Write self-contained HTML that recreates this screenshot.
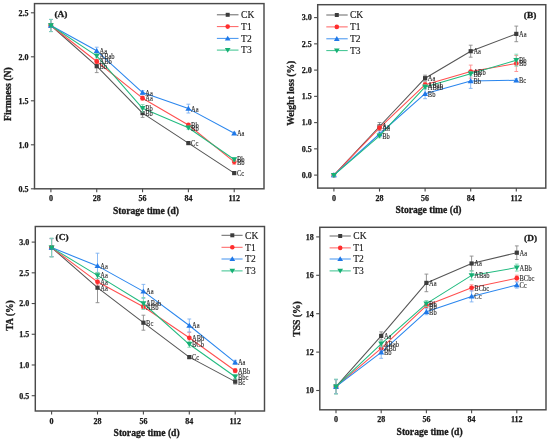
<!DOCTYPE html>
<html><head><meta charset="utf-8"><style>
html,body{margin:0;padding:0;background:#fff;}
body{width:550px;height:440px;overflow:hidden;}
svg{display:block;filter:blur(0.38px);}
text{font-family:"Liberation Serif",serif;fill:#1a1a1a;}
.tk{font-size:8px;font-weight:bold;stroke:#1a1a1a;stroke-width:0.25px;}
.tt{font-size:9.6px;font-weight:bold;stroke:#1a1a1a;stroke-width:0.3px;}
.pl{font-size:9.4px;font-weight:bold;stroke:#1a1a1a;stroke-width:0.3px;}
.lg{font-size:9.5px;stroke:#1a1a1a;stroke-width:0.15px;}
.an{font-size:7.4px;fill:#2a2a2a;stroke:#2a2a2a;stroke-width:0.12px;}
</style></head><body>
<svg width="550" height="440" viewBox="0 0 550 440">
<rect width="550" height="440" fill="#fff"/>
<rect x="34.5" y="3.6" width="229.5" height="185.20000000000002" fill="none" stroke="#4a4a4a" stroke-width="1.45"/>
<line x1="30.9" y1="188.80" x2="34.5" y2="188.80" stroke="#4a4a4a" stroke-width="1.1"/>
<text x="28.50" y="191.60" class="tk" text-anchor="end">0.5</text>
<line x1="30.9" y1="144.80" x2="34.5" y2="144.80" stroke="#4a4a4a" stroke-width="1.1"/>
<text x="28.50" y="147.60" class="tk" text-anchor="end">1.0</text>
<line x1="30.9" y1="100.80" x2="34.5" y2="100.80" stroke="#4a4a4a" stroke-width="1.1"/>
<text x="28.50" y="103.60" class="tk" text-anchor="end">1.5</text>
<line x1="30.9" y1="56.80" x2="34.5" y2="56.80" stroke="#4a4a4a" stroke-width="1.1"/>
<text x="28.50" y="59.60" class="tk" text-anchor="end">2.0</text>
<line x1="30.9" y1="12.80" x2="34.5" y2="12.80" stroke="#4a4a4a" stroke-width="1.1"/>
<text x="28.50" y="15.60" class="tk" text-anchor="end">2.5</text>
<line x1="50.90" y1="188.8" x2="50.90" y2="192.3" stroke="#4a4a4a" stroke-width="1.1"/>
<text x="50.90" y="201.20" class="tk" text-anchor="middle">0</text>
<line x1="96.73" y1="188.8" x2="96.73" y2="192.3" stroke="#4a4a4a" stroke-width="1.1"/>
<text x="96.73" y="201.20" class="tk" text-anchor="middle">28</text>
<line x1="142.56" y1="188.8" x2="142.56" y2="192.3" stroke="#4a4a4a" stroke-width="1.1"/>
<text x="142.56" y="201.20" class="tk" text-anchor="middle">56</text>
<line x1="188.39" y1="188.8" x2="188.39" y2="192.3" stroke="#4a4a4a" stroke-width="1.1"/>
<text x="188.39" y="201.20" class="tk" text-anchor="middle">84</text>
<line x1="234.22" y1="188.8" x2="234.22" y2="192.3" stroke="#4a4a4a" stroke-width="1.1"/>
<text x="234.22" y="201.20" class="tk" text-anchor="middle">112</text>
<text x="145.95" y="214.00" class="tt" text-anchor="middle">Storage time (d)</text>
<text transform="translate(11.2,94.2) rotate(-90)" class="tt" text-anchor="middle">Firmness (N)</text>
<text transform="translate(54.4,17.2) scale(1,0.86)" class="pl">(A)</text>
<path d="M50.90 25.50L96.73 66.20L142.56 113.10L188.39 143.10L234.22 173.10" fill="none" stroke="#555555" stroke-width="1.05" stroke-linejoin="round"/>
<path d="M50.90 19.50V31.50M49.00 19.50H52.80M49.00 31.50H52.80" stroke="#8a8a8a" stroke-width="0.9" fill="none"/>
<path d="M96.73 59.80V72.60M94.83 59.80H98.63M94.83 72.60H98.63" stroke="#8a8a8a" stroke-width="0.9" fill="none"/>
<path d="M142.56 108.80V117.40M140.66 108.80H144.46M140.66 117.40H144.46" stroke="#8a8a8a" stroke-width="0.9" fill="none"/>
<path d="M188.39 142.10V144.10M186.49 142.10H190.29M186.49 144.10H190.29" stroke="#8a8a8a" stroke-width="0.9" fill="none"/>
<path d="M234.22 172.10V174.10M232.32 172.10H236.12M232.32 174.10H236.12" stroke="#8a8a8a" stroke-width="0.9" fill="none"/>
<rect x="48.80" y="23.40" width="4.20" height="4.20" fill="#3c3c3c"/>
<rect x="94.63" y="64.10" width="4.20" height="4.20" fill="#3c3c3c"/>
<rect x="140.46" y="111.00" width="4.20" height="4.20" fill="#3c3c3c"/>
<rect x="186.29" y="141.00" width="4.20" height="4.20" fill="#3c3c3c"/>
<rect x="232.12" y="171.00" width="4.20" height="4.20" fill="#3c3c3c"/>
<path d="M50.90 25.50L96.73 61.50L142.56 98.20L188.39 125.00L234.22 161.80" fill="none" stroke="#ff4f4f" stroke-width="1.05" stroke-linejoin="round"/>
<path d="M50.90 19.50V31.50M49.00 19.50H52.80M49.00 31.50H52.80" stroke="#ff8c8c" stroke-width="0.9" fill="none"/>
<path d="M96.73 59.50V63.50M94.83 59.50H98.63M94.83 63.50H98.63" stroke="#ff8c8c" stroke-width="0.9" fill="none"/>
<path d="M142.56 96.20V100.20M140.66 96.20H144.46M140.66 100.20H144.46" stroke="#ff8c8c" stroke-width="0.9" fill="none"/>
<path d="M188.39 123.50V126.50M186.49 123.50H190.29M186.49 126.50H190.29" stroke="#ff8c8c" stroke-width="0.9" fill="none"/>
<path d="M234.22 159.30V164.30M232.32 159.30H236.12M232.32 164.30H236.12" stroke="#ff8c8c" stroke-width="0.9" fill="none"/>
<circle cx="50.90" cy="25.50" r="2.40" fill="#ff2e2e"/>
<circle cx="96.73" cy="61.50" r="2.40" fill="#ff2e2e"/>
<circle cx="142.56" cy="98.20" r="2.40" fill="#ff2e2e"/>
<circle cx="188.39" cy="125.00" r="2.40" fill="#ff2e2e"/>
<circle cx="234.22" cy="161.80" r="2.40" fill="#ff2e2e"/>
<path d="M50.90 25.50L96.73 50.80L142.56 92.60L188.39 108.60L234.22 133.30" fill="none" stroke="#2a86ee" stroke-width="1.05" stroke-linejoin="round"/>
<path d="M50.90 19.50V31.50M49.00 19.50H52.80M49.00 31.50H52.80" stroke="#7fb2f2" stroke-width="0.9" fill="none"/>
<path d="M96.73 47.20V54.40M94.83 47.20H98.63M94.83 54.40H98.63" stroke="#7fb2f2" stroke-width="0.9" fill="none"/>
<path d="M142.56 90.60V94.60M140.66 90.60H144.46M140.66 94.60H144.46" stroke="#7fb2f2" stroke-width="0.9" fill="none"/>
<path d="M188.39 104.20V113.00M186.49 104.20H190.29M186.49 113.00H190.29" stroke="#7fb2f2" stroke-width="0.9" fill="none"/>
<path d="M234.22 132.30V134.30M232.32 132.30H236.12M232.32 134.30H236.12" stroke="#7fb2f2" stroke-width="0.9" fill="none"/>
<path d="M50.90 22.70L53.90 27.70L47.90 27.70Z" fill="#1f78e8"/>
<path d="M96.73 48.00L99.73 53.00L93.73 53.00Z" fill="#1f78e8"/>
<path d="M142.56 89.80L145.56 94.80L139.56 94.80Z" fill="#1f78e8"/>
<path d="M188.39 105.80L191.39 110.80L185.39 110.80Z" fill="#1f78e8"/>
<path d="M234.22 130.50L237.22 135.50L231.22 135.50Z" fill="#1f78e8"/>
<path d="M50.90 25.50L96.73 55.90L142.56 108.30L188.39 127.70L234.22 159.50" fill="none" stroke="#22bb80" stroke-width="1.05" stroke-linejoin="round"/>
<path d="M50.90 19.30V31.70M49.00 19.30H52.80M49.00 31.70H52.80" stroke="#7fd6b2" stroke-width="0.9" fill="none"/>
<path d="M96.73 53.90V57.90M94.83 53.90H98.63M94.83 57.90H98.63" stroke="#7fd6b2" stroke-width="0.9" fill="none"/>
<path d="M142.56 104.60V112.00M140.66 104.60H144.46M140.66 112.00H144.46" stroke="#7fd6b2" stroke-width="0.9" fill="none"/>
<path d="M188.39 126.20V129.20M186.49 126.20H190.29M186.49 129.20H190.29" stroke="#7fd6b2" stroke-width="0.9" fill="none"/>
<path d="M234.22 158.00V161.00M232.32 158.00H236.12M232.32 161.00H236.12" stroke="#7fd6b2" stroke-width="0.9" fill="none"/>
<path d="M50.90 28.30L53.90 23.30L47.90 23.30Z" fill="#16b074"/>
<path d="M96.73 58.70L99.73 53.70L93.73 53.70Z" fill="#16b074"/>
<path d="M142.56 111.10L145.56 106.10L139.56 106.10Z" fill="#16b074"/>
<path d="M188.39 130.50L191.39 125.50L185.39 125.50Z" fill="#16b074"/>
<path d="M234.22 162.30L237.22 157.30L231.22 157.30Z" fill="#16b074"/>
<text transform="translate(99.43,69.10) scale(0.88,1)" class="an">Bb</text>
<text transform="translate(145.26,116.00) scale(0.88,1)" class="an">Bb</text>
<text transform="translate(191.09,146.00) scale(0.88,1)" class="an">Cc</text>
<text transform="translate(236.92,176.00) scale(0.88,1)" class="an">Cc</text>
<text transform="translate(99.43,64.40) scale(0.88,1)" class="an">ABb</text>
<text transform="translate(145.26,101.10) scale(0.88,1)" class="an">Aa</text>
<text transform="translate(191.09,127.90) scale(0.88,1)" class="an">Bb</text>
<text transform="translate(236.92,164.70) scale(0.88,1)" class="an">Bb</text>
<text transform="translate(99.43,53.70) scale(0.88,1)" class="an">Aa</text>
<text transform="translate(145.26,95.50) scale(0.88,1)" class="an">Aa</text>
<text transform="translate(191.09,111.50) scale(0.88,1)" class="an">Aa</text>
<text transform="translate(236.92,136.20) scale(0.88,1)" class="an">Aa</text>
<text transform="translate(99.43,58.80) scale(0.88,1)" class="an">ABab</text>
<text transform="translate(145.26,111.20) scale(0.88,1)" class="an">Bb</text>
<text transform="translate(191.09,130.60) scale(0.88,1)" class="an">Bb</text>
<text transform="translate(236.92,162.40) scale(0.88,1)" class="an">Bb</text>
<line x1="216.9" y1="14.8" x2="238.5" y2="14.8" stroke="#555555" stroke-width="0.9"/>
<rect x="225.70" y="12.81" width="3.99" height="3.99" fill="#3c3c3c"/>
<text x="241.1" y="18.10" class="lg">CK</text>
<line x1="216.9" y1="26.6" x2="238.5" y2="26.6" stroke="#ff4f4f" stroke-width="0.9"/>
<circle cx="227.70" cy="26.60" r="2.28" fill="#ff2e2e"/>
<text x="241.1" y="29.90" class="lg">T1</text>
<line x1="216.9" y1="38.4" x2="238.5" y2="38.4" stroke="#2a86ee" stroke-width="0.9"/>
<path d="M227.70 35.73L230.55 40.48L224.85 40.48Z" fill="#1f78e8"/>
<text x="241.1" y="41.70" class="lg">T2</text>
<line x1="216.9" y1="50.1" x2="238.5" y2="50.1" stroke="#22bb80" stroke-width="0.9"/>
<path d="M227.70 52.77L230.55 48.02L224.85 48.02Z" fill="#16b074"/>
<text x="241.1" y="53.40" class="lg">T3</text>
<rect x="317.7" y="4.7" width="228.09999999999997" height="183.4" fill="none" stroke="#4a4a4a" stroke-width="1.45"/>
<line x1="314.09999999999997" y1="175.10" x2="317.7" y2="175.10" stroke="#4a4a4a" stroke-width="1.1"/>
<text x="311.70" y="177.90" class="tk" text-anchor="end">0.0</text>
<line x1="314.09999999999997" y1="148.85" x2="317.7" y2="148.85" stroke="#4a4a4a" stroke-width="1.1"/>
<text x="311.70" y="151.65" class="tk" text-anchor="end">0.5</text>
<line x1="314.09999999999997" y1="122.60" x2="317.7" y2="122.60" stroke="#4a4a4a" stroke-width="1.1"/>
<text x="311.70" y="125.40" class="tk" text-anchor="end">1.0</text>
<line x1="314.09999999999997" y1="96.35" x2="317.7" y2="96.35" stroke="#4a4a4a" stroke-width="1.1"/>
<text x="311.70" y="99.15" class="tk" text-anchor="end">1.5</text>
<line x1="314.09999999999997" y1="70.10" x2="317.7" y2="70.10" stroke="#4a4a4a" stroke-width="1.1"/>
<text x="311.70" y="72.90" class="tk" text-anchor="end">2.0</text>
<line x1="314.09999999999997" y1="43.85" x2="317.7" y2="43.85" stroke="#4a4a4a" stroke-width="1.1"/>
<text x="311.70" y="46.65" class="tk" text-anchor="end">2.5</text>
<line x1="314.09999999999997" y1="17.60" x2="317.7" y2="17.60" stroke="#4a4a4a" stroke-width="1.1"/>
<text x="311.70" y="20.40" class="tk" text-anchor="end">3.0</text>
<line x1="333.90" y1="188.1" x2="333.90" y2="191.6" stroke="#4a4a4a" stroke-width="1.1"/>
<text x="333.90" y="200.90" class="tk" text-anchor="middle">0</text>
<line x1="379.50" y1="188.1" x2="379.50" y2="191.6" stroke="#4a4a4a" stroke-width="1.1"/>
<text x="379.50" y="200.90" class="tk" text-anchor="middle">28</text>
<line x1="425.10" y1="188.1" x2="425.10" y2="191.6" stroke="#4a4a4a" stroke-width="1.1"/>
<text x="425.10" y="200.90" class="tk" text-anchor="middle">56</text>
<line x1="470.70" y1="188.1" x2="470.70" y2="191.6" stroke="#4a4a4a" stroke-width="1.1"/>
<text x="470.70" y="200.90" class="tk" text-anchor="middle">84</text>
<line x1="516.30" y1="188.1" x2="516.30" y2="191.6" stroke="#4a4a4a" stroke-width="1.1"/>
<text x="516.30" y="200.90" class="tk" text-anchor="middle">112</text>
<text x="428.45" y="213.30" class="tt" text-anchor="middle">Storage time (d)</text>
<text transform="translate(294.2,93.2) rotate(-90)" class="tt" text-anchor="middle">Weight loss (%)</text>
<text transform="translate(523.8,18.1) scale(1,0.86)" class="pl">(B)</text>
<path d="M333.90 175.10L379.50 126.50L425.10 78.20L470.70 51.20L516.30 33.90" fill="none" stroke="#555555" stroke-width="1.05" stroke-linejoin="round"/>
<path d="M333.90 174.10V176.10M332.00 174.10H335.80M332.00 176.10H335.80" stroke="#8a8a8a" stroke-width="0.9" fill="none"/>
<path d="M379.50 122.50V130.50M377.60 122.50H381.40M377.60 130.50H381.40" stroke="#8a8a8a" stroke-width="0.9" fill="none"/>
<path d="M425.10 75.20V81.20M423.20 75.20H427.00M423.20 81.20H427.00" stroke="#8a8a8a" stroke-width="0.9" fill="none"/>
<path d="M470.70 45.20V57.20M468.80 45.20H472.60M468.80 57.20H472.60" stroke="#8a8a8a" stroke-width="0.9" fill="none"/>
<path d="M516.30 26.10V41.70M514.40 26.10H518.20M514.40 41.70H518.20" stroke="#8a8a8a" stroke-width="0.9" fill="none"/>
<rect x="331.80" y="173.00" width="4.20" height="4.20" fill="#3c3c3c"/>
<rect x="377.40" y="124.40" width="4.20" height="4.20" fill="#3c3c3c"/>
<rect x="423.00" y="76.10" width="4.20" height="4.20" fill="#3c3c3c"/>
<rect x="468.60" y="49.10" width="4.20" height="4.20" fill="#3c3c3c"/>
<rect x="514.20" y="31.80" width="4.20" height="4.20" fill="#3c3c3c"/>
<path d="M333.90 175.10L379.50 127.80L425.10 84.70L470.70 71.60L516.30 63.50" fill="none" stroke="#ff4f4f" stroke-width="1.05" stroke-linejoin="round"/>
<path d="M333.90 174.10V176.10M332.00 174.10H335.80M332.00 176.10H335.80" stroke="#ff8c8c" stroke-width="0.9" fill="none"/>
<path d="M379.50 125.80V129.80M377.60 125.80H381.40M377.60 129.80H381.40" stroke="#ff8c8c" stroke-width="0.9" fill="none"/>
<path d="M425.10 82.70V86.70M423.20 82.70H427.00M423.20 86.70H427.00" stroke="#ff8c8c" stroke-width="0.9" fill="none"/>
<path d="M470.70 65.10V78.10M468.80 65.10H472.60M468.80 78.10H472.60" stroke="#ff8c8c" stroke-width="0.9" fill="none"/>
<path d="M516.30 55.50V71.50M514.40 55.50H518.20M514.40 71.50H518.20" stroke="#ff8c8c" stroke-width="0.9" fill="none"/>
<circle cx="333.90" cy="175.10" r="2.40" fill="#ff2e2e"/>
<circle cx="379.50" cy="127.80" r="2.40" fill="#ff2e2e"/>
<circle cx="425.10" cy="84.70" r="2.40" fill="#ff2e2e"/>
<circle cx="470.70" cy="71.60" r="2.40" fill="#ff2e2e"/>
<circle cx="516.30" cy="63.50" r="2.40" fill="#ff2e2e"/>
<path d="M333.90 175.10L379.50 134.00L425.10 93.70L470.70 81.10L516.30 80.20" fill="none" stroke="#2a86ee" stroke-width="1.05" stroke-linejoin="round"/>
<path d="M333.90 174.10V176.10M332.00 174.10H335.80M332.00 176.10H335.80" stroke="#7fb2f2" stroke-width="0.9" fill="none"/>
<path d="M379.50 132.00V136.00M377.60 132.00H381.40M377.60 136.00H381.40" stroke="#7fb2f2" stroke-width="0.9" fill="none"/>
<path d="M425.10 88.70V98.70M423.20 88.70H427.00M423.20 98.70H427.00" stroke="#7fb2f2" stroke-width="0.9" fill="none"/>
<path d="M470.70 73.80V88.40M468.80 73.80H472.60M468.80 88.40H472.60" stroke="#7fb2f2" stroke-width="0.9" fill="none"/>
<path d="M516.30 78.70V81.70M514.40 78.70H518.20M514.40 81.70H518.20" stroke="#7fb2f2" stroke-width="0.9" fill="none"/>
<path d="M333.90 172.30L336.90 177.30L330.90 177.30Z" fill="#1f78e8"/>
<path d="M379.50 131.20L382.50 136.20L376.50 136.20Z" fill="#1f78e8"/>
<path d="M425.10 90.90L428.10 95.90L422.10 95.90Z" fill="#1f78e8"/>
<path d="M470.70 78.30L473.70 83.30L467.70 83.30Z" fill="#1f78e8"/>
<path d="M516.30 77.40L519.30 82.40L513.30 82.40Z" fill="#1f78e8"/>
<path d="M333.90 175.10L379.50 135.80L425.10 86.90L470.70 73.80L516.30 60.20" fill="none" stroke="#22bb80" stroke-width="1.05" stroke-linejoin="round"/>
<path d="M333.90 174.10V176.10M332.00 174.10H335.80M332.00 176.10H335.80" stroke="#7fd6b2" stroke-width="0.9" fill="none"/>
<path d="M379.50 133.80V137.80M377.60 133.80H381.40M377.60 137.80H381.40" stroke="#7fd6b2" stroke-width="0.9" fill="none"/>
<path d="M425.10 84.90V88.90M423.20 84.90H427.00M423.20 88.90H427.00" stroke="#7fd6b2" stroke-width="0.9" fill="none"/>
<path d="M470.70 71.80V75.80M468.80 71.80H472.60M468.80 75.80H472.60" stroke="#7fd6b2" stroke-width="0.9" fill="none"/>
<path d="M516.30 54.20V66.20M514.40 54.20H518.20M514.40 66.20H518.20" stroke="#7fd6b2" stroke-width="0.9" fill="none"/>
<path d="M333.90 177.90L336.90 172.90L330.90 172.90Z" fill="#16b074"/>
<path d="M379.50 138.60L382.50 133.60L376.50 133.60Z" fill="#16b074"/>
<path d="M425.10 89.70L428.10 84.70L422.10 84.70Z" fill="#16b074"/>
<path d="M470.70 76.60L473.70 71.60L467.70 71.60Z" fill="#16b074"/>
<path d="M516.30 63.00L519.30 58.00L513.30 58.00Z" fill="#16b074"/>
<text transform="translate(382.20,129.40) scale(0.88,1)" class="an">Aa</text>
<text transform="translate(427.80,81.10) scale(0.88,1)" class="an">Aa</text>
<text transform="translate(473.40,54.10) scale(0.88,1)" class="an">Aa</text>
<text transform="translate(519.00,36.80) scale(0.88,1)" class="an">Aa</text>
<text transform="translate(382.20,130.70) scale(0.88,1)" class="an">Aa</text>
<text transform="translate(427.80,87.60) scale(0.88,1)" class="an">ABab</text>
<text transform="translate(473.40,74.50) scale(0.88,1)" class="an">ABb</text>
<text transform="translate(519.00,66.40) scale(0.88,1)" class="an">Bb</text>
<text transform="translate(427.80,96.60) scale(0.88,1)" class="an">Bb</text>
<text transform="translate(473.40,84.00) scale(0.88,1)" class="an">Bb</text>
<text transform="translate(519.00,83.10) scale(0.88,1)" class="an">Bc</text>
<text transform="translate(382.20,138.70) scale(0.88,1)" class="an">Bb</text>
<text transform="translate(427.80,89.80) scale(0.88,1)" class="an">ABab</text>
<text transform="translate(473.40,76.70) scale(0.88,1)" class="an">Bb</text>
<text transform="translate(519.00,63.10) scale(0.88,1)" class="an">Bb</text>
<line x1="326.3" y1="15" x2="347.7" y2="15" stroke="#555555" stroke-width="0.9"/>
<rect x="334.81" y="13.01" width="3.99" height="3.99" fill="#3c3c3c"/>
<text x="349.9" y="18.30" class="lg">CK</text>
<line x1="326.3" y1="26.9" x2="347.7" y2="26.9" stroke="#ff4f4f" stroke-width="0.9"/>
<circle cx="336.80" cy="26.90" r="2.28" fill="#ff2e2e"/>
<text x="349.9" y="30.20" class="lg">T1</text>
<line x1="326.3" y1="38.8" x2="347.7" y2="38.8" stroke="#2a86ee" stroke-width="0.9"/>
<path d="M336.80 36.12L339.65 40.88L333.95 40.88Z" fill="#1f78e8"/>
<text x="349.9" y="42.10" class="lg">T2</text>
<line x1="326.3" y1="50.6" x2="347.7" y2="50.6" stroke="#22bb80" stroke-width="0.9"/>
<path d="M336.80 53.27L339.65 48.52L333.95 48.52Z" fill="#16b074"/>
<text x="349.9" y="53.90" class="lg">T3</text>
<rect x="35.3" y="226.5" width="229.2" height="184.5" fill="none" stroke="#4a4a4a" stroke-width="1.45"/>
<line x1="31.699999999999996" y1="395.70" x2="35.3" y2="395.70" stroke="#4a4a4a" stroke-width="1.1"/>
<text x="29.30" y="398.50" class="tk" text-anchor="end">0.5</text>
<line x1="31.699999999999996" y1="364.98" x2="35.3" y2="364.98" stroke="#4a4a4a" stroke-width="1.1"/>
<text x="29.30" y="367.78" class="tk" text-anchor="end">1.0</text>
<line x1="31.699999999999996" y1="334.26" x2="35.3" y2="334.26" stroke="#4a4a4a" stroke-width="1.1"/>
<text x="29.30" y="337.06" class="tk" text-anchor="end">1.5</text>
<line x1="31.699999999999996" y1="303.54" x2="35.3" y2="303.54" stroke="#4a4a4a" stroke-width="1.1"/>
<text x="29.30" y="306.34" class="tk" text-anchor="end">2.0</text>
<line x1="31.699999999999996" y1="272.82" x2="35.3" y2="272.82" stroke="#4a4a4a" stroke-width="1.1"/>
<text x="29.30" y="275.62" class="tk" text-anchor="end">2.5</text>
<line x1="31.699999999999996" y1="242.10" x2="35.3" y2="242.10" stroke="#4a4a4a" stroke-width="1.1"/>
<text x="29.30" y="244.90" class="tk" text-anchor="end">3.0</text>
<line x1="51.60" y1="411" x2="51.60" y2="414.5" stroke="#4a4a4a" stroke-width="1.1"/>
<text x="51.60" y="424.00" class="tk" text-anchor="middle">0</text>
<line x1="97.50" y1="411" x2="97.50" y2="414.5" stroke="#4a4a4a" stroke-width="1.1"/>
<text x="97.50" y="424.00" class="tk" text-anchor="middle">28</text>
<line x1="143.40" y1="411" x2="143.40" y2="414.5" stroke="#4a4a4a" stroke-width="1.1"/>
<text x="143.40" y="424.00" class="tk" text-anchor="middle">56</text>
<line x1="189.30" y1="411" x2="189.30" y2="414.5" stroke="#4a4a4a" stroke-width="1.1"/>
<text x="189.30" y="424.00" class="tk" text-anchor="middle">84</text>
<line x1="235.20" y1="411" x2="235.20" y2="414.5" stroke="#4a4a4a" stroke-width="1.1"/>
<text x="235.20" y="424.00" class="tk" text-anchor="middle">112</text>
<text x="146.60" y="436.20" class="tt" text-anchor="middle">Storage time (d)</text>
<text transform="translate(12.6,315.5) rotate(-90)" class="tt" text-anchor="middle">TA (%)</text>
<text transform="translate(55.6,240.2) scale(1,0.86)" class="pl">(C)</text>
<path d="M51.60 247.60L97.50 287.70L143.40 322.70L189.30 357.10L235.20 381.60" fill="none" stroke="#555555" stroke-width="1.05" stroke-linejoin="round"/>
<path d="M51.60 238.60V256.60M49.70 238.60H53.50M49.70 256.60H53.50" stroke="#8a8a8a" stroke-width="0.9" fill="none"/>
<path d="M97.50 272.70V302.70M95.60 272.70H99.40M95.60 302.70H99.40" stroke="#8a8a8a" stroke-width="0.9" fill="none"/>
<path d="M143.40 315.20V330.20M141.50 315.20H145.30M141.50 330.20H145.30" stroke="#8a8a8a" stroke-width="0.9" fill="none"/>
<path d="M189.30 355.60V358.60M187.40 355.60H191.20M187.40 358.60H191.20" stroke="#8a8a8a" stroke-width="0.9" fill="none"/>
<path d="M235.20 379.10V384.10M233.30 379.10H237.10M233.30 384.10H237.10" stroke="#8a8a8a" stroke-width="0.9" fill="none"/>
<rect x="49.50" y="245.50" width="4.20" height="4.20" fill="#3c3c3c"/>
<rect x="95.40" y="285.60" width="4.20" height="4.20" fill="#3c3c3c"/>
<rect x="141.30" y="320.60" width="4.20" height="4.20" fill="#3c3c3c"/>
<rect x="187.20" y="355.00" width="4.20" height="4.20" fill="#3c3c3c"/>
<rect x="233.10" y="379.50" width="4.20" height="4.20" fill="#3c3c3c"/>
<path d="M51.60 247.60L97.50 281.80L143.40 306.70L189.30 337.80L235.20 370.70" fill="none" stroke="#ff4f4f" stroke-width="1.05" stroke-linejoin="round"/>
<path d="M51.60 238.60V256.60M49.70 238.60H53.50M49.70 256.60H53.50" stroke="#ff8c8c" stroke-width="0.9" fill="none"/>
<path d="M97.50 278.80V284.80M95.60 278.80H99.40M95.60 284.80H99.40" stroke="#ff8c8c" stroke-width="0.9" fill="none"/>
<path d="M143.40 304.70V308.70M141.50 304.70H145.30M141.50 308.70H145.30" stroke="#ff8c8c" stroke-width="0.9" fill="none"/>
<path d="M189.30 332.30V343.30M187.40 332.30H191.20M187.40 343.30H191.20" stroke="#ff8c8c" stroke-width="0.9" fill="none"/>
<path d="M235.20 368.70V372.70M233.30 368.70H237.10M233.30 372.70H237.10" stroke="#ff8c8c" stroke-width="0.9" fill="none"/>
<circle cx="51.60" cy="247.60" r="2.40" fill="#ff2e2e"/>
<circle cx="97.50" cy="281.80" r="2.40" fill="#ff2e2e"/>
<circle cx="143.40" cy="306.70" r="2.40" fill="#ff2e2e"/>
<circle cx="189.30" cy="337.80" r="2.40" fill="#ff2e2e"/>
<circle cx="235.20" cy="370.70" r="2.40" fill="#ff2e2e"/>
<path d="M51.60 247.60L97.50 265.90L143.40 291.40L189.30 325.50L235.20 362.30" fill="none" stroke="#2a86ee" stroke-width="1.05" stroke-linejoin="round"/>
<path d="M51.60 238.60V256.60M49.70 238.60H53.50M49.70 256.60H53.50" stroke="#7fb2f2" stroke-width="0.9" fill="none"/>
<path d="M97.50 253.20V278.60M95.60 253.20H99.40M95.60 278.60H99.40" stroke="#7fb2f2" stroke-width="0.9" fill="none"/>
<path d="M143.40 284.40V298.40M141.50 284.40H145.30M141.50 298.40H145.30" stroke="#7fb2f2" stroke-width="0.9" fill="none"/>
<path d="M189.30 319.00V332.00M187.40 319.00H191.20M187.40 332.00H191.20" stroke="#7fb2f2" stroke-width="0.9" fill="none"/>
<path d="M235.20 360.30V364.30M233.30 360.30H237.10M233.30 364.30H237.10" stroke="#7fb2f2" stroke-width="0.9" fill="none"/>
<path d="M51.60 244.80L54.60 249.80L48.60 249.80Z" fill="#1f78e8"/>
<path d="M97.50 263.10L100.50 268.10L94.50 268.10Z" fill="#1f78e8"/>
<path d="M143.40 288.60L146.40 293.60L140.40 293.60Z" fill="#1f78e8"/>
<path d="M189.30 322.70L192.30 327.70L186.30 327.70Z" fill="#1f78e8"/>
<path d="M235.20 359.50L238.20 364.50L232.20 364.50Z" fill="#1f78e8"/>
<path d="M51.60 247.60L97.50 275.40L143.40 303.50L189.30 344.30L235.20 376.80" fill="none" stroke="#22bb80" stroke-width="1.05" stroke-linejoin="round"/>
<path d="M51.60 238.10V257.10M49.70 238.10H53.50M49.70 257.10H53.50" stroke="#7fd6b2" stroke-width="0.9" fill="none"/>
<path d="M97.50 272.40V278.40M95.60 272.40H99.40M95.60 278.40H99.40" stroke="#7fd6b2" stroke-width="0.9" fill="none"/>
<path d="M143.40 297.50V309.50M141.50 297.50H145.30M141.50 309.50H145.30" stroke="#7fd6b2" stroke-width="0.9" fill="none"/>
<path d="M189.30 341.30V347.30M187.40 341.30H191.20M187.40 347.30H191.20" stroke="#7fd6b2" stroke-width="0.9" fill="none"/>
<path d="M235.20 374.80V378.80M233.30 374.80H237.10M233.30 378.80H237.10" stroke="#7fd6b2" stroke-width="0.9" fill="none"/>
<path d="M51.60 250.40L54.60 245.40L48.60 245.40Z" fill="#16b074"/>
<path d="M97.50 278.20L100.50 273.20L94.50 273.20Z" fill="#16b074"/>
<path d="M143.40 306.30L146.40 301.30L140.40 301.30Z" fill="#16b074"/>
<path d="M189.30 347.10L192.30 342.10L186.30 342.10Z" fill="#16b074"/>
<path d="M235.20 379.60L238.20 374.60L232.20 374.60Z" fill="#16b074"/>
<text transform="translate(100.20,290.60) scale(0.88,1)" class="an">Aa</text>
<text transform="translate(146.10,325.60) scale(0.88,1)" class="an">Bc</text>
<text transform="translate(192.00,360.00) scale(0.88,1)" class="an">Cc</text>
<text transform="translate(237.90,384.50) scale(0.88,1)" class="an">Bc</text>
<text transform="translate(100.20,284.70) scale(0.88,1)" class="an">Aa</text>
<text transform="translate(146.10,309.60) scale(0.88,1)" class="an">ABb</text>
<text transform="translate(192.00,340.70) scale(0.88,1)" class="an">ABb</text>
<text transform="translate(237.90,373.60) scale(0.88,1)" class="an">ABb</text>
<text transform="translate(100.20,268.80) scale(0.88,1)" class="an">Aa</text>
<text transform="translate(146.10,294.30) scale(0.88,1)" class="an">Aa</text>
<text transform="translate(192.00,328.40) scale(0.88,1)" class="an">Aa</text>
<text transform="translate(237.90,365.20) scale(0.88,1)" class="an">Aa</text>
<text transform="translate(100.20,278.30) scale(0.88,1)" class="an">Aa</text>
<text transform="translate(146.10,306.40) scale(0.88,1)" class="an">ABab</text>
<text transform="translate(192.00,347.20) scale(0.88,1)" class="an">BCb</text>
<text transform="translate(237.90,379.70) scale(0.88,1)" class="an">Bbc</text>
<line x1="221.5" y1="235.3" x2="242.6" y2="235.3" stroke="#555555" stroke-width="0.9"/>
<rect x="230.31" y="233.31" width="3.99" height="3.99" fill="#3c3c3c"/>
<text x="245.1" y="238.60" class="lg">CK</text>
<line x1="221.5" y1="247.3" x2="242.6" y2="247.3" stroke="#ff4f4f" stroke-width="0.9"/>
<circle cx="232.30" cy="247.30" r="2.28" fill="#ff2e2e"/>
<text x="245.1" y="250.60" class="lg">T1</text>
<line x1="221.5" y1="259" x2="242.6" y2="259" stroke="#2a86ee" stroke-width="0.9"/>
<path d="M232.30 256.32L235.15 261.07L229.45 261.07Z" fill="#1f78e8"/>
<text x="245.1" y="262.30" class="lg">T2</text>
<line x1="221.5" y1="270.9" x2="242.6" y2="270.9" stroke="#22bb80" stroke-width="0.9"/>
<path d="M232.30 273.57L235.15 268.82L229.45 268.82Z" fill="#16b074"/>
<text x="245.1" y="274.20" class="lg">T3</text>
<rect x="319.8" y="227.3" width="226.2" height="182.5" fill="none" stroke="#4a4a4a" stroke-width="1.45"/>
<line x1="316.2" y1="390.50" x2="319.8" y2="390.50" stroke="#4a4a4a" stroke-width="1.1"/>
<text x="313.80" y="393.30" class="tk" text-anchor="end">10</text>
<line x1="316.2" y1="352.10" x2="319.8" y2="352.10" stroke="#4a4a4a" stroke-width="1.1"/>
<text x="313.80" y="354.90" class="tk" text-anchor="end">12</text>
<line x1="316.2" y1="313.70" x2="319.8" y2="313.70" stroke="#4a4a4a" stroke-width="1.1"/>
<text x="313.80" y="316.50" class="tk" text-anchor="end">14</text>
<line x1="316.2" y1="275.30" x2="319.8" y2="275.30" stroke="#4a4a4a" stroke-width="1.1"/>
<text x="313.80" y="278.10" class="tk" text-anchor="end">16</text>
<line x1="316.2" y1="236.90" x2="319.8" y2="236.90" stroke="#4a4a4a" stroke-width="1.1"/>
<text x="313.80" y="239.70" class="tk" text-anchor="end">18</text>
<line x1="336.00" y1="409.8" x2="336.00" y2="413.3" stroke="#4a4a4a" stroke-width="1.1"/>
<text x="336.00" y="422.10" class="tk" text-anchor="middle">0</text>
<line x1="381.20" y1="409.8" x2="381.20" y2="413.3" stroke="#4a4a4a" stroke-width="1.1"/>
<text x="381.20" y="422.10" class="tk" text-anchor="middle">28</text>
<line x1="426.40" y1="409.8" x2="426.40" y2="413.3" stroke="#4a4a4a" stroke-width="1.1"/>
<text x="426.40" y="422.10" class="tk" text-anchor="middle">56</text>
<line x1="471.60" y1="409.8" x2="471.60" y2="413.3" stroke="#4a4a4a" stroke-width="1.1"/>
<text x="471.60" y="422.10" class="tk" text-anchor="middle">84</text>
<line x1="516.80" y1="409.8" x2="516.80" y2="413.3" stroke="#4a4a4a" stroke-width="1.1"/>
<text x="516.80" y="422.10" class="tk" text-anchor="middle">112</text>
<text x="429.60" y="435.00" class="tt" text-anchor="middle">Storage time (d)</text>
<text transform="translate(300.3,319) rotate(-90)" class="tt" text-anchor="middle">TSS (%)</text>
<text transform="translate(524.1,241.3) scale(1,0.86)" class="pl">(D)</text>
<path d="M336.00 386.60L381.20 335.90L426.40 282.90L471.60 263.50L516.80 252.70" fill="none" stroke="#555555" stroke-width="1.05" stroke-linejoin="round"/>
<path d="M336.00 379.60V393.60M334.10 379.60H337.90M334.10 393.60H337.90" stroke="#8a8a8a" stroke-width="0.9" fill="none"/>
<path d="M381.20 331.90V339.90M379.30 331.90H383.10M379.30 339.90H383.10" stroke="#8a8a8a" stroke-width="0.9" fill="none"/>
<path d="M426.40 274.10V291.70M424.50 274.10H428.30M424.50 291.70H428.30" stroke="#8a8a8a" stroke-width="0.9" fill="none"/>
<path d="M471.60 256.10V270.90M469.70 256.10H473.50M469.70 270.90H473.50" stroke="#8a8a8a" stroke-width="0.9" fill="none"/>
<path d="M516.80 245.90V259.50M514.90 245.90H518.70M514.90 259.50H518.70" stroke="#8a8a8a" stroke-width="0.9" fill="none"/>
<rect x="333.90" y="384.50" width="4.20" height="4.20" fill="#3c3c3c"/>
<rect x="379.10" y="333.80" width="4.20" height="4.20" fill="#3c3c3c"/>
<rect x="424.30" y="280.80" width="4.20" height="4.20" fill="#3c3c3c"/>
<rect x="469.50" y="261.40" width="4.20" height="4.20" fill="#3c3c3c"/>
<rect x="514.70" y="250.60" width="4.20" height="4.20" fill="#3c3c3c"/>
<path d="M336.00 386.60L381.20 348.30L426.40 305.60L471.60 287.80L516.80 278.20" fill="none" stroke="#ff4f4f" stroke-width="1.05" stroke-linejoin="round"/>
<path d="M336.00 379.60V393.60M334.10 379.60H337.90M334.10 393.60H337.90" stroke="#ff8c8c" stroke-width="0.9" fill="none"/>
<path d="M381.20 345.30V351.30M379.30 345.30H383.10M379.30 351.30H383.10" stroke="#ff8c8c" stroke-width="0.9" fill="none"/>
<path d="M426.40 303.60V307.60M424.50 303.60H428.30M424.50 307.60H428.30" stroke="#ff8c8c" stroke-width="0.9" fill="none"/>
<path d="M471.60 284.80V290.80M469.70 284.80H473.50M469.70 290.80H473.50" stroke="#ff8c8c" stroke-width="0.9" fill="none"/>
<path d="M516.80 275.20V281.20M514.90 275.20H518.70M514.90 281.20H518.70" stroke="#ff8c8c" stroke-width="0.9" fill="none"/>
<circle cx="336.00" cy="386.60" r="2.40" fill="#ff2e2e"/>
<circle cx="381.20" cy="348.30" r="2.40" fill="#ff2e2e"/>
<circle cx="426.40" cy="305.60" r="2.40" fill="#ff2e2e"/>
<circle cx="471.60" cy="287.80" r="2.40" fill="#ff2e2e"/>
<circle cx="516.80" cy="278.20" r="2.40" fill="#ff2e2e"/>
<path d="M336.00 386.60L381.20 352.30L426.40 311.70L471.60 296.40L516.80 285.10" fill="none" stroke="#2a86ee" stroke-width="1.05" stroke-linejoin="round"/>
<path d="M336.00 379.60V393.60M334.10 379.60H337.90M334.10 393.60H337.90" stroke="#7fb2f2" stroke-width="0.9" fill="none"/>
<path d="M381.20 346.30V358.30M379.30 346.30H383.10M379.30 358.30H383.10" stroke="#7fb2f2" stroke-width="0.9" fill="none"/>
<path d="M426.40 308.70V314.70M424.50 308.70H428.30M424.50 314.70H428.30" stroke="#7fb2f2" stroke-width="0.9" fill="none"/>
<path d="M471.60 290.90V301.90M469.70 290.90H473.50M469.70 301.90H473.50" stroke="#7fb2f2" stroke-width="0.9" fill="none"/>
<path d="M516.80 282.10V288.10M514.90 282.10H518.70M514.90 288.10H518.70" stroke="#7fb2f2" stroke-width="0.9" fill="none"/>
<path d="M336.00 383.80L339.00 388.80L333.00 388.80Z" fill="#1f78e8"/>
<path d="M381.20 349.50L384.20 354.50L378.20 354.50Z" fill="#1f78e8"/>
<path d="M426.40 308.90L429.40 313.90L423.40 313.90Z" fill="#1f78e8"/>
<path d="M471.60 293.60L474.60 298.60L468.60 298.60Z" fill="#1f78e8"/>
<path d="M516.80 282.30L519.80 287.30L513.80 287.30Z" fill="#1f78e8"/>
<path d="M336.00 386.60L381.20 343.80L426.40 303.60L471.60 275.40L516.80 267.60" fill="none" stroke="#22bb80" stroke-width="1.05" stroke-linejoin="round"/>
<path d="M336.00 379.10V394.10M334.10 379.10H337.90M334.10 394.10H337.90" stroke="#7fd6b2" stroke-width="0.9" fill="none"/>
<path d="M381.20 340.80V346.80M379.30 340.80H383.10M379.30 346.80H383.10" stroke="#7fd6b2" stroke-width="0.9" fill="none"/>
<path d="M426.40 300.60V306.60M424.50 300.60H428.30M424.50 306.60H428.30" stroke="#7fd6b2" stroke-width="0.9" fill="none"/>
<path d="M471.60 270.90V279.90M469.70 270.90H473.50M469.70 279.90H473.50" stroke="#7fd6b2" stroke-width="0.9" fill="none"/>
<path d="M516.80 264.10V271.10M514.90 264.10H518.70M514.90 271.10H518.70" stroke="#7fd6b2" stroke-width="0.9" fill="none"/>
<path d="M336.00 389.40L339.00 384.40L333.00 384.40Z" fill="#16b074"/>
<path d="M381.20 346.60L384.20 341.60L378.20 341.60Z" fill="#16b074"/>
<path d="M426.40 306.40L429.40 301.40L423.40 301.40Z" fill="#16b074"/>
<path d="M471.60 278.20L474.60 273.20L468.60 273.20Z" fill="#16b074"/>
<path d="M516.80 270.40L519.80 265.40L513.80 265.40Z" fill="#16b074"/>
<text transform="translate(383.90,338.80) scale(0.88,1)" class="an">Aa</text>
<text transform="translate(429.10,285.80) scale(0.88,1)" class="an">Aa</text>
<text transform="translate(474.30,266.40) scale(0.88,1)" class="an">Aa</text>
<text transform="translate(519.50,255.60) scale(0.88,1)" class="an">Aa</text>
<text transform="translate(383.90,351.20) scale(0.88,1)" class="an">ABb</text>
<text transform="translate(429.10,308.50) scale(0.88,1)" class="an">Bb</text>
<text transform="translate(474.30,290.70) scale(0.88,1)" class="an">BCbc</text>
<text transform="translate(519.50,281.10) scale(0.88,1)" class="an">BCbc</text>
<text transform="translate(383.90,355.20) scale(0.88,1)" class="an">Bb</text>
<text transform="translate(429.10,314.60) scale(0.88,1)" class="an">Bb</text>
<text transform="translate(474.30,299.30) scale(0.88,1)" class="an">Cc</text>
<text transform="translate(519.50,288.00) scale(0.88,1)" class="an">Cc</text>
<text transform="translate(383.90,346.70) scale(0.88,1)" class="an">ABab</text>
<text transform="translate(429.10,306.50) scale(0.88,1)" class="an">Bb</text>
<text transform="translate(474.30,278.30) scale(0.88,1)" class="an">ABab</text>
<text transform="translate(519.50,270.50) scale(0.88,1)" class="an">ABb</text>
<line x1="329.6" y1="236" x2="350.8" y2="236" stroke="#555555" stroke-width="0.9"/>
<rect x="338.20" y="234.00" width="3.99" height="3.99" fill="#3c3c3c"/>
<text x="353.3" y="239.30" class="lg">CK</text>
<line x1="329.6" y1="247.9" x2="350.8" y2="247.9" stroke="#ff4f4f" stroke-width="0.9"/>
<circle cx="340.20" cy="247.90" r="2.28" fill="#ff2e2e"/>
<text x="353.3" y="251.20" class="lg">T1</text>
<line x1="329.6" y1="259" x2="350.8" y2="259" stroke="#2a86ee" stroke-width="0.9"/>
<path d="M340.20 256.32L343.05 261.07L337.35 261.07Z" fill="#1f78e8"/>
<text x="353.3" y="262.30" class="lg">T2</text>
<line x1="329.6" y1="270.9" x2="350.8" y2="270.9" stroke="#22bb80" stroke-width="0.9"/>
<path d="M340.20 273.57L343.05 268.82L337.35 268.82Z" fill="#16b074"/>
<text x="353.3" y="274.20" class="lg">T3</text>
</svg>
</body></html>
